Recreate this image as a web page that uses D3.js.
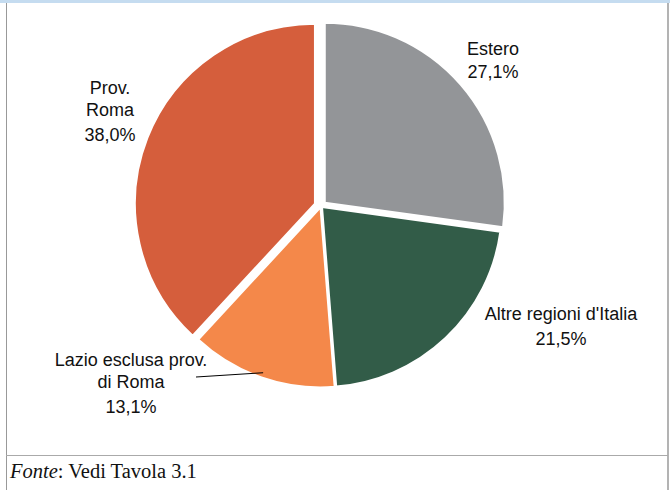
<!DOCTYPE html>
<html>
<head>
<meta charset="utf-8">
<script src="https://cdn.jsdelivr.net/npm/d3@7"></script>
<style>
  body { margin: 0; background: #fff; }
  svg { display: block; }
</style>
</head>
<body>
<div id="chart"></div>
<script>
// data
var categories = ["Estero", "Altre regioni d'Italia", "Lazio esclusa prov. di Roma", "Prov. Roma"];
var values = [27.1, 21.5, 13.1, 38.0];
var valueLabels = ["27,1%", "21,5%", "13,1%", "38,0%"];
var labelLines = [["Estero"], ["Altre regioni d'Italia"], ["Lazio esclusa prov.", "di Roma"], ["Prov.", "Roma"]];
var colors = ["#939598", "#325c48", "#f4884a", "#d55e3c"];

// layout
var width = 670, height = 490;
var cx = 321, cy = 206, radius = 180;
var explode = [5, 1.5, 1.5, 6.5]; // point explosion per slice
// label anchor (x of text centre, baseline of first line) and line gap
var labelPos = [[493, 55], [561, 320], [131, 366], [110, 94]];
var lineGap = [23, 25, 22, 22];

var svg = d3.select("#chart").append("svg")
  .attr("width", width)
  .attr("height", height);

svg.append("rect").attr("width", width).attr("height", height).attr("fill", "#fff");

// frame of the table around the figure
svg.append("rect").attr("x", 0).attr("y", 0).attr("width", width).attr("height", 3).attr("fill", "#c5dcf0");
svg.append("line").attr("x1", 6.5).attr("x2", 6.5).attr("y1", 3).attr("y2", height)
  .attr("stroke", "#999").attr("stroke-width", 1);
svg.append("line").attr("x1", 668).attr("x2", 668).attr("y1", 3).attr("y2", height)
  .attr("stroke", "#b3b3b3").attr("stroke-width", 2);
svg.append("line").attr("x1", 6).attr("x2", 668).attr("y1", 455.5).attr("y2", 455.5)
  .attr("stroke", "#aaa").attr("stroke-width", 1);

var pie = d3.pie().sort(null).value(function (d) { return d; });
var arcs = pie(values);

var arc = d3.arc().innerRadius(0).outerRadius(radius);

function offset(d, i, r) {
  var mid = (d.startAngle + d.endAngle) / 2;
  return [Math.sin(mid) * r, -Math.cos(mid) * r];
}

var g = svg.append("g").attr("transform", "translate(" + cx + "," + cy + ")");

g.selectAll("path")
  .data(arcs)
  .enter()
  .append("path")
  .attr("d", arc)
  .attr("fill", function (d, i) { return colors[i]; })
  .attr("stroke", "#fff")
  .attr("stroke-width", 2)
  .attr("stroke-linejoin", "miter")
  .attr("transform", function (d, i) {
    var o = offset(d, i, explode[i]);
    return "translate(" + o[0] + "," + o[1] + ")";
  });

// labels
var labels = svg.append("g")
  .attr("font-family", "'Liberation Sans', Arial, sans-serif")
  .attr("font-size", "18px")
  .attr("fill", "#111")
  .attr("text-anchor", "middle");

arcs.forEach(function (d, i) {
  var lines = labelLines[i].concat([valueLabels[i]]);
  var t = labels.append("text");
  lines.forEach(function (s, j) {
    t.append("tspan")
      .attr("x", labelPos[i][0])
      .attr("y", labelPos[i][1] + j * lineGap[i] + (j === lines.length - 1 && lines.length > 2 ? 3 : 0))
      .text(s);
  });
});

// leader line for the small slice
var lazio = arcs[2];
var mid = (lazio.startAngle + lazio.endAngle) / 2;
var o = offset(lazio, 2, explode[2]);
var ex = cx + o[0] + Math.sin(mid) * (radius - 5);
var ey = cy + o[1] - Math.cos(mid) * (radius - 5);
svg.append("line")
  .attr("x1", 196).attr("y1", 377)
  .attr("x2", ex).attr("y2", ey)
  .attr("stroke", "#000")
  .attr("stroke-width", 1);

// source note
var note = svg.append("text")
  .attr("x", 10)
  .attr("y", 478)
  .attr("font-family", "'Liberation Serif', 'Times New Roman', serif")
  .attr("font-size", "20.5px")
  .attr("fill", "#111");
note.append("tspan").attr("font-style", "italic").text("Fonte");
note.append("tspan").text(": Vedi Tavola 3.1");
</script>
</body>
</html>
